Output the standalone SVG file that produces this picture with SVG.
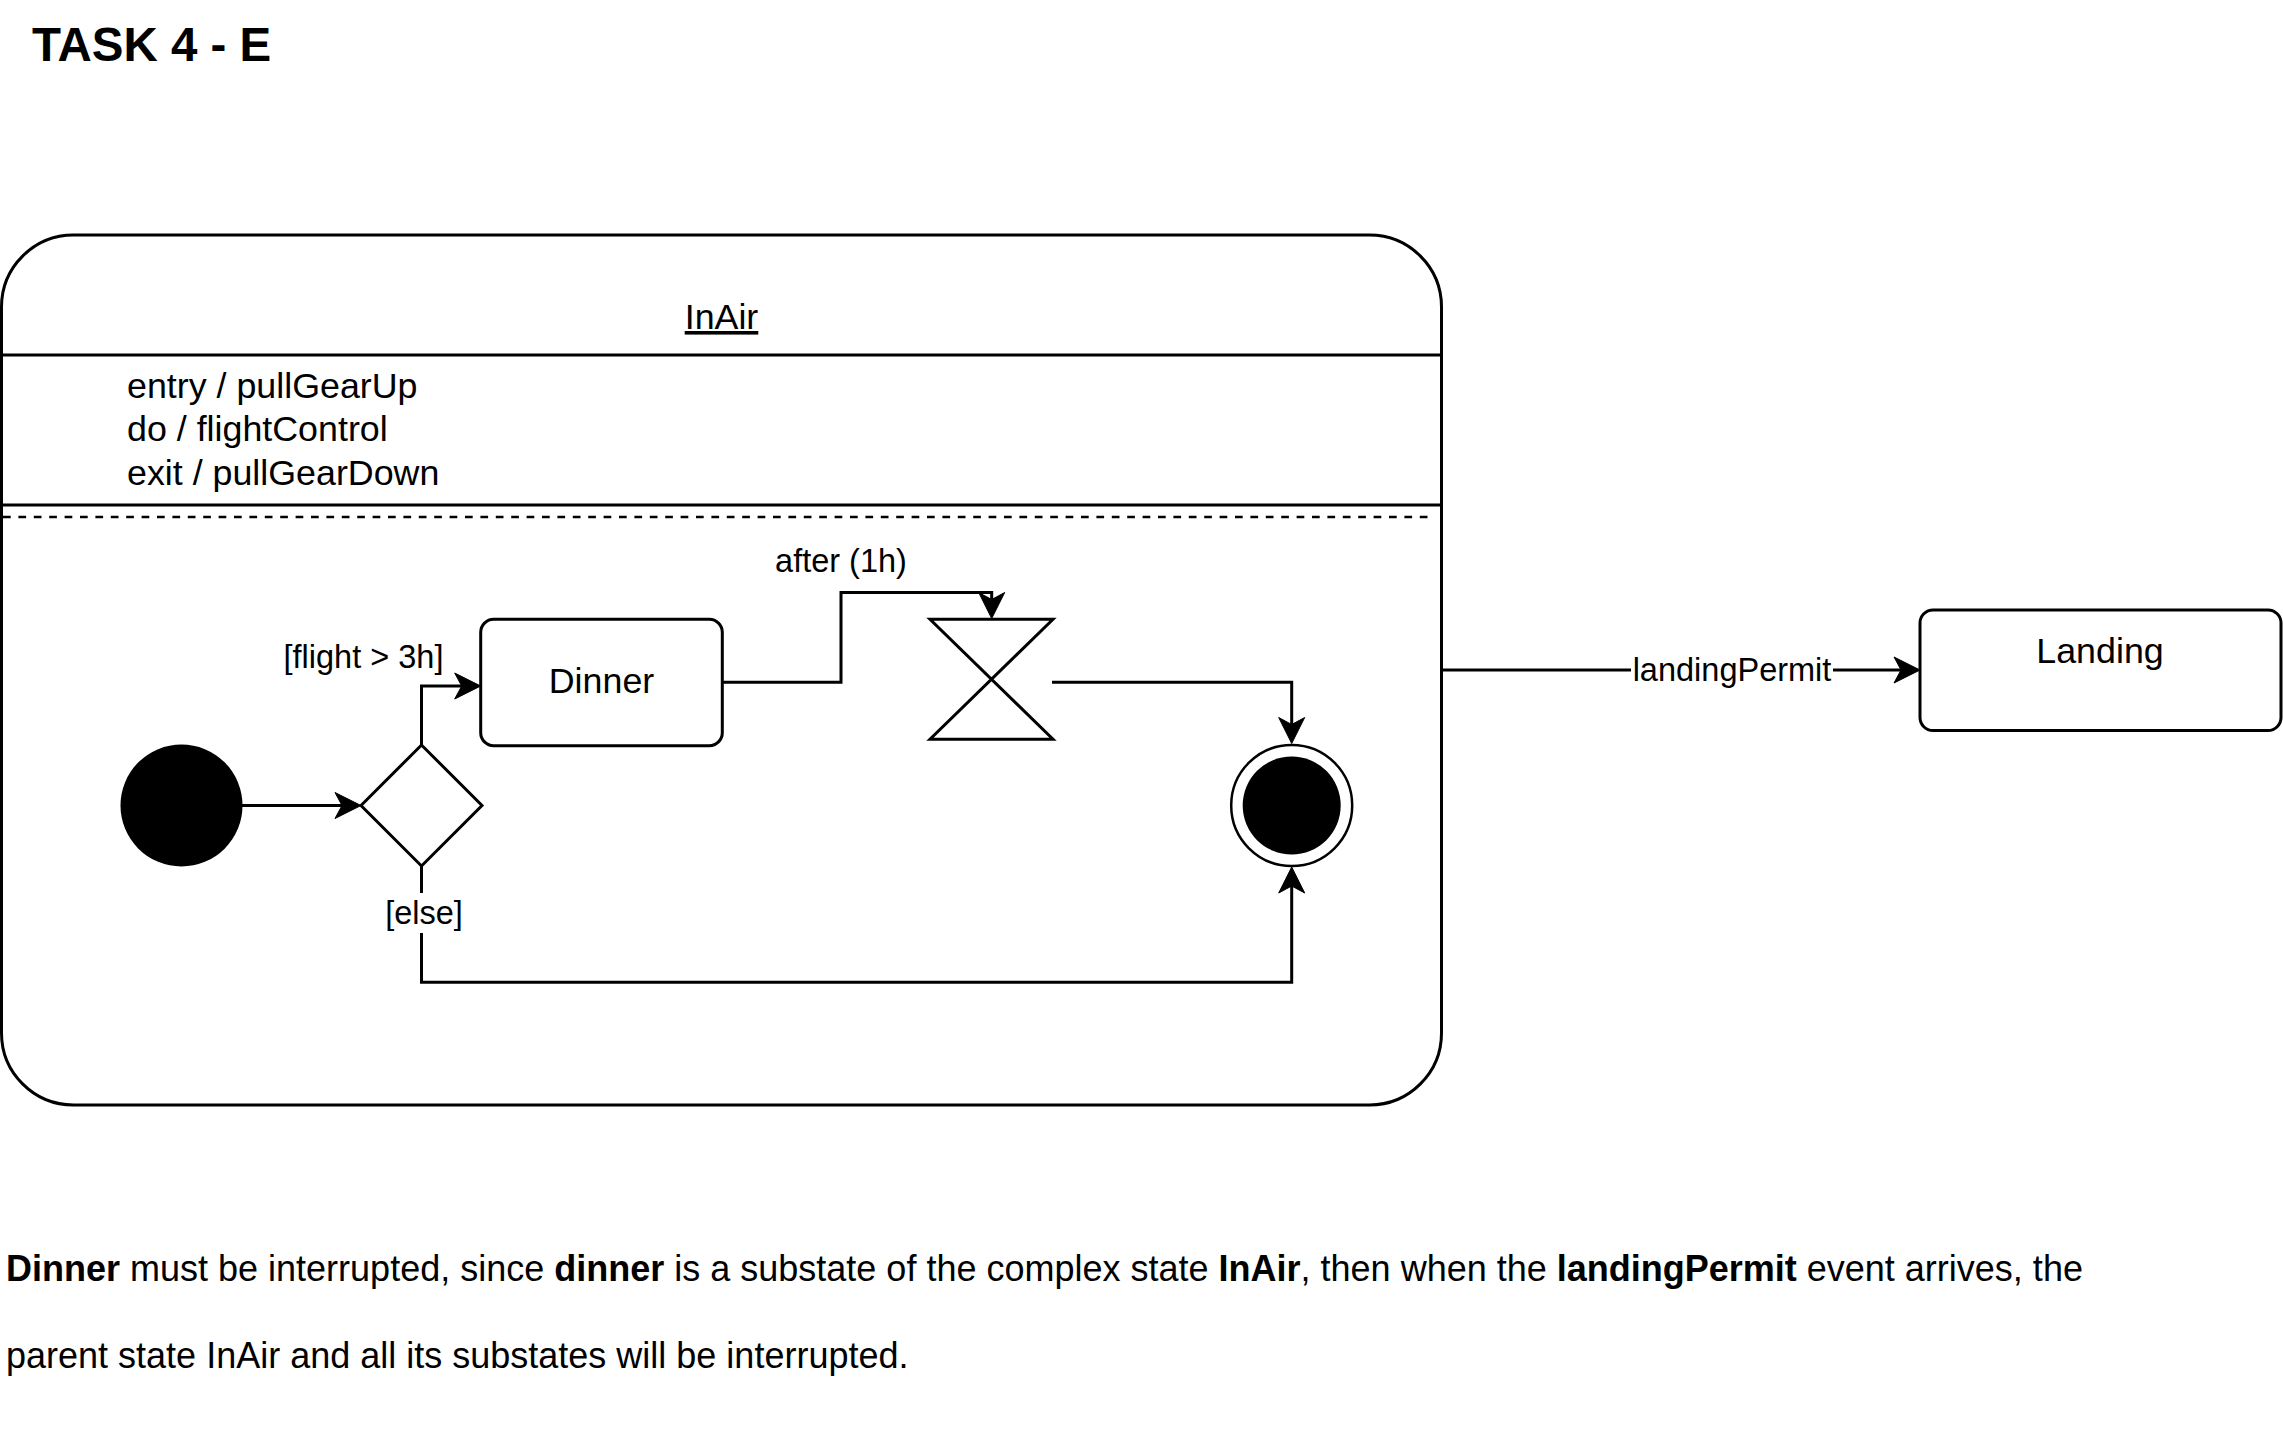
<svg xmlns="http://www.w3.org/2000/svg" width="2283" height="1443" viewBox="0 0 2283 1443">
<style>
  .ln { fill: none; stroke: #000; stroke-width: 3; }
  .t { font-family: "Liberation Sans", Arial, Helvetica, sans-serif; fill: #000; }
  .v { font-size: 35.8px; }
  .e { font-size: 32.5px; }
  .n { font-size: 36px; }
  .arrowed { marker-end: url(#arr); }
</style>
<defs>
  <marker id="arr" viewBox="-27 -14 28 28" refX="-19" refY="0" markerWidth="28" markerHeight="28" markerUnits="userSpaceOnUse" orient="auto">
    <path d="M0,0 L-26,-13 L-19,0 L-26,13 Z" fill="#000" stroke="#000" stroke-width="1" stroke-linejoin="miter"/>
  </marker>
</defs>
<rect width="2283" height="1443" fill="#fff"/>

<text id="title" class="t" x="32" y="61" font-size="47.5" font-weight="bold">TASK 4 - E</text>

<g id="InAir">
  <rect x="1.5" y="235" width="1440" height="870" rx="72" ry="72" fill="#fff" stroke="#000" stroke-width="3"/>
  <text class="t v" x="721.5" y="329" text-anchor="middle" text-decoration="underline">InAir</text>
  <line x1="1.5" y1="355" x2="1441.5" y2="355" stroke="#000" stroke-width="3"/>
  <text class="t v" x="127" y="398">entry / pullGearUp</text>
  <text class="t v" x="127" y="441">do / flightControl</text>
  <text class="t v" x="127" y="485">exit / pullGearDown</text>
  <line x1="1.5" y1="505" x2="1441.5" y2="505" stroke="#000" stroke-width="3"/>
  <line x1="3" y1="517" x2="1434" y2="517" stroke="#000" stroke-width="2.5" stroke-dasharray="7.7 7.7"/>
</g>

<g id="initial">
  <circle cx="181.5" cy="805.5" r="61" fill="#000"/>
</g>

<g id="decision">
  <polygon points="361,805.5 421.5,745 482,805.5 421.5,866" fill="#fff" stroke="#000" stroke-width="3"/>
</g>

<g id="Dinner">
  <rect x="480.7" y="619.3" width="241.6" height="126.4" rx="13" ry="13" fill="#fff" stroke="#000" stroke-width="3"/>
  <text class="t v" x="601.5" y="693" text-anchor="middle">Dinner</text>
</g>

<g id="timer">
  <path d="M930,619.3 H1053 L930,739.3 H1053 Z" fill="#fff" stroke="#000" stroke-width="3" stroke-linejoin="miter"/>
</g>

<g id="final">
  <circle cx="1291.7" cy="805.5" r="60.5" fill="#fff" stroke="#000" stroke-width="2.5"/>
  <circle cx="1291.7" cy="805.5" r="49" fill="#000"/>
</g>

<g id="Landing">
  <rect x="1920" y="610" width="361" height="120.5" rx="13" ry="13" fill="#fff" stroke="#000" stroke-width="3"/>
  <text class="t v" x="2100" y="663" text-anchor="middle">Landing</text>
</g>

<g id="connectors">
  <path class="ln arrowed" d="M242,805.5 H342"/>
  <path class="ln arrowed" d="M421.5,745 V686 H461.7"/>
  <path class="ln arrowed" d="M722.3,682.3 H841 V592.5 H991.7 V599.5"/>
  <path class="ln arrowed" d="M1052,682.3 H1291.7 V724.5"/>
  <path class="ln arrowed" d="M421.5,866 V982.3 H1291.7 V886"/>
  <path class="ln arrowed" d="M1441.5,670 H1901"/>
  <text class="t e" x="363.5" y="668" text-anchor="middle">[flight &gt; 3h]</text>
  <text class="t e" x="841" y="572" text-anchor="middle">after (1h)</text>
  <rect x="385" y="893" width="78" height="40" fill="#fff"/>
  <text class="t e" x="424" y="924" text-anchor="middle">[else]</text>
  <rect x="1631" y="652" width="202" height="36" fill="#fff"/>
  <text class="t e" x="1732" y="681" text-anchor="middle">landingPermit</text>
</g>

<g id="note">
  <text class="t n" x="6" y="1281"><tspan font-weight="bold">Dinner</tspan> must be interrupted, since <tspan font-weight="bold">dinner</tspan> is a substate of the complex state <tspan font-weight="bold">InAir</tspan>, then when the <tspan font-weight="bold">landingPermit</tspan> event arrives, the</text>
  <text class="t n" x="6" y="1368">parent state InAir and all its substates will be interrupted.</text>
</g>
</svg>
